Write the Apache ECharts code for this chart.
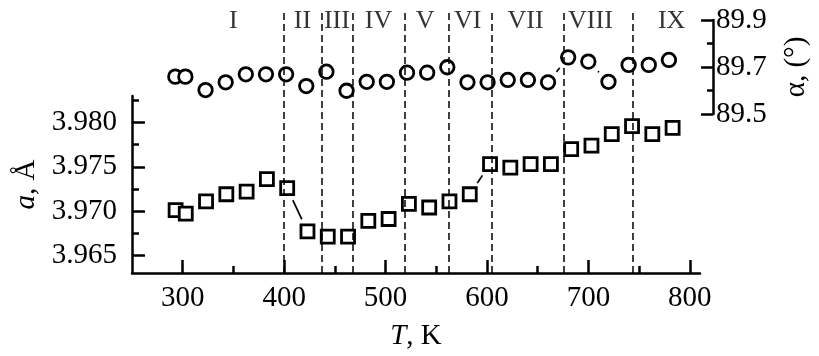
<!DOCTYPE html>
<html>
<head>
<meta charset="utf-8">
<script src="https://cdn.jsdelivr.net/npm/echarts@6/dist/echarts.min.js"></script>
<style>
html,body{margin:0;padding:0;background:#fff;}
#chart{width:819px;height:356px;}
</style>
</head>
<body>
<div id="chart"></div>
<script>
// ---- data ----
const temperature = [293, 303, 323, 343, 363, 383, 403, 423, 443, 463, 483, 503, 523, 543, 563, 583, 603, 623, 643, 663, 683, 703, 723, 743, 763, 783];
const latticeA = [3.9701, 3.9697, 3.9711, 3.9719, 3.9722, 3.9736, 3.9726, 3.9677, 3.9671, 3.9671, 3.9689, 3.9691, 3.9708, 3.9704, 3.9711, 3.9719, 3.9753, 3.9749, 3.9753, 3.9753, 3.9770, 3.9774, 3.9787, 3.9796, 3.9787, 3.9794];
const angleAlpha = [89.659, 89.659, 89.602, 89.635, 89.669, 89.669, 89.669, 89.619, 89.680, 89.599, 89.637, 89.637, 89.676, 89.676, 89.699, 89.635, 89.635, 89.645, 89.645, 89.635, 89.741, 89.723, 89.637, 89.709, 89.709, 89.730];
const phaseBoundaries = [400, 437, 468, 519, 562, 605, 676, 744];
const phaseNames = ['I', 'II', 'III', 'IV', 'V', 'VI', 'VII', 'VIII', 'IX'];
const phaseLabelT = [350, 418, 452, 493, 539, 581, 638, 702, 782];
const latticeSegments = [[6, 7], [15, 16]];
const angleSegments = [[19, 20], [21, 22]];
const xMajorTicks = [300, 400, 500, 600, 700, 800];
const xMinorTicks = [350, 450, 550, 650, 750];
const aMajorTicks = [3.965, 3.970, 3.975, 3.980];
const aMinorTicks = [3.9675, 3.9725, 3.9775, 3.9825];
const alphaMajorTicks = [89.5, 89.7, 89.9];
const alphaMinorTicks = [89.6, 89.8];

// ---- chart ----
const FONT = 'Liberation Serif';
const FS = 29;
const chart = echarts.init(document.getElementById('chart'), null, {renderer: 'canvas'});

const axisLineStyle = {color: '#000', width: 2.5};
const segSeries = [];
latticeSegments.forEach(p => {
  segSeries.push({
    type: 'line', xAxisIndex: 0, yAxisIndex: 0, z: 2, silent: true,
    data: p.map(i => [temperature[i], latticeA[i]]),
    symbol: 'circle', symbolSize: 27, showSymbol: true,
    itemStyle: {color: '#fff', borderWidth: 0},
    lineStyle: {color: '#000', width: 1.7}
  });
});
angleSegments.forEach(p => {
  segSeries.push({
    type: 'line', xAxisIndex: 2, yAxisIndex: 2, z: 2, silent: true,
    data: p.map(i => [temperature[i], angleAlpha[i]]),
    symbol: 'circle', symbolSize: 27, showSymbol: true,
    itemStyle: {color: '#fff', borderWidth: 0},
    lineStyle: {color: '#000', width: 1.7}
  });
});

const option = {
  animation: false,
  backgroundColor: '#fff',
  textStyle: {fontFamily: FONT, color: '#000'},
  grid: [
    {left: 132, top: 96, width: 568, height: 177},
    {left: 132, top: 20, width: 585, height: 94},
    {left: 132, top: 13, width: 568, height: 260}
  ],
  xAxis: [
    {
      gridIndex: 0, type: 'value', position: 'bottom', min: 250, max: 810,
      axisLine: {lineStyle: axisLineStyle},
      axisTick: {inside: true, length: 13, lineStyle: {width: 2.5, color: '#000'}, customValues: xMajorTicks},
      axisLabel: {customValues: xMajorTicks, fontSize: FS, fontFamily: FONT, color: '#000', margin: 11},
      splitLine: {show: false},
      name: '{i|T}, K', nameLocation: 'middle', nameGap: 49,
      nameTextStyle: {fontSize: FS, fontFamily: FONT, color: '#000',
        rich: {i: {fontSize: FS, fontFamily: FONT, fontStyle: 'italic', color: '#000'}}}
    },
    {
      gridIndex: 0, type: 'value', position: 'bottom', offset: 0, min: 250, max: 810,
      axisLine: {show: false},
      axisTick: {inside: true, length: 7, lineStyle: {width: 2.5, color: '#000'}, customValues: xMinorTicks},
      axisLabel: {show: false}, splitLine: {show: false}
    },
    {gridIndex: 1, type: 'value', min: 250, max: 826.76, show: false},
    {gridIndex: 2, type: 'value', min: 250, max: 810, show: false}
  ],
  yAxis: [
    {
      gridIndex: 0, type: 'value', position: 'left', min: 3.963, max: 3.983,
      axisLine: {show: true, lineStyle: axisLineStyle},
      axisTick: {show: true, inside: true, length: 13, lineStyle: {width: 2.5, color: '#000'}, customValues: aMajorTicks},
      axisLabel: {customValues: aMajorTicks, formatter: v => v.toFixed(3), fontSize: FS, fontFamily: FONT, color: '#000', margin: 15},
      splitLine: {show: false},
      name: '{i|a}, Å', nameLocation: 'middle', nameGap: 86,
      nameTextStyle: {fontSize: FS, fontFamily: FONT, color: '#000',
        rich: {i: {fontSize: FS, fontFamily: FONT, fontStyle: 'italic', color: '#000'}}}
    },
    {
      gridIndex: 0, type: 'value', position: 'left', offset: 0, min: 3.963, max: 3.983,
      axisLine: {show: false},
      axisTick: {show: true, inside: true, length: 7, lineStyle: {width: 2.5, color: '#000'}, customValues: aMinorTicks},
      axisLabel: {show: false}, splitLine: {show: false}
    },
    {
      gridIndex: 1, type: 'value', position: 'right', min: 89.5, max: 89.9,
      axisLine: {show: true, lineStyle: axisLineStyle},
      axisTick: {show: true, inside: true, length: 12, lineStyle: {width: 2.5, color: '#000'}, customValues: alphaMajorTicks},
      axisLabel: {customValues: alphaMajorTicks, formatter: v => v.toFixed(1), fontSize: FS, fontFamily: FONT, color: '#000', margin: 3},
      splitLine: {show: false},
      name: 'α, (°)', nameLocation: 'middle', nameGap: 69,
      nameTextStyle: {fontSize: FS, fontFamily: FONT, color: '#000'}
    },
    {
      gridIndex: 1, type: 'value', position: 'right', offset: 0, min: 89.5, max: 89.9,
      axisLine: {show: false},
      axisTick: {show: true, inside: true, length: 6, lineStyle: {width: 2.5, color: '#000'}, customValues: alphaMinorTicks},
      axisLabel: {show: false}, splitLine: {show: false}
    },
    {gridIndex: 2, type: 'value', min: 0, max: 1, show: false}
  ],
  series: [
    ...segSeries,
    {
      type: 'scatter', xAxisIndex: 0, yAxisIndex: 0, z: 3, silent: true,
      data: temperature.map((t, i) => [t, latticeA[i]]),
      symbol: 'rect', symbolSize: 13,
      itemStyle: {color: '#fff', borderColor: '#000', borderWidth: 2.8, opacity: 1}
    },
    {
      type: 'scatter', xAxisIndex: 2, yAxisIndex: 2, z: 3, silent: true,
      data: temperature.map((t, i) => [t, angleAlpha[i]]),
      symbol: 'circle', symbolSize: 13.5,
      itemStyle: {color: '#fff', borderColor: '#000', borderWidth: 2.8, opacity: 1}
    },
    {
      type: 'scatter', xAxisIndex: 3, yAxisIndex: 4, z: 10, silent: true,
      data: phaseLabelT.map((t, i) => ({value: [t, 0.969], name: phaseNames[i]})),
      symbolSize: 0,
      label: {show: true, position: 'inside', formatter: p => p.name, fontSize: 26, fontFamily: FONT, color: '#000'},
      markLine: {
        silent: true, symbol: ['none', 'none'],
        label: {show: false},
        lineStyle: {color: '#000', width: 1.5, type: [7, 4]},
        data: phaseBoundaries.map(b => ({xAxis: b}))
      }
    }
  ]
};
chart.setOption(option);
</script>
</body>
</html>
